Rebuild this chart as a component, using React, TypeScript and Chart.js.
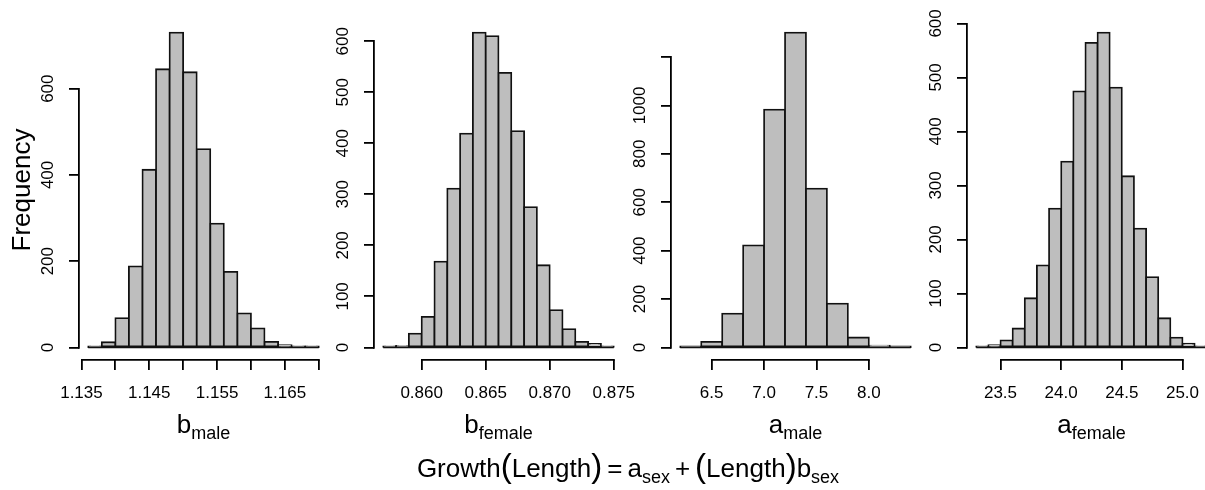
import React, { useEffect, useRef } from 'react';
import { Chart, registerables } from 'chart.js';

Chart.register(...registerables);

const FONT = "'Liberation Sans', Arial, Helvetica, sans-serif";
Chart.defaults.font.family = FONT;

// ---------- Data: b_male ----------
const bMaleBreakStart = 1.136;
const bMaleBinWidth = 0.002;
const bMaleCounts = [1, 12, 68, 188, 412, 645, 730, 638, 460, 287, 175, 79, 44, 13, 5, 1, 1];
const bMaleXTicks = [1.135, 1.14, 1.145, 1.15, 1.155, 1.16, 1.165, 1.17];
const bMaleXTickLabels = ['1.135', '', '1.145', '', '1.155', '', '1.165', ''];
const bMaleYTicks = [0, 200, 400, 600];
const bMaleYTickLabels = ['0', '200', '400', '600'];

// ---------- Data: b_female ----------
const bFemaleBreakStart = 0.857;
const bFemaleBinWidth = 0.001;
const bFemaleCounts = [1, 3, 27, 60, 168, 311, 419, 617, 610, 538, 424, 275, 161, 73, 36, 11, 7, 1];
const bFemaleXTicks = [0.86, 0.865, 0.87, 0.875];
const bFemaleXTickLabels = ['0.860', '0.865', '0.870', '0.875'];
const bFemaleYTicks = [0, 100, 200, 300, 400, 500, 600];
const bFemaleYTickLabels = ['0', '100', '200', '300', '400', '500', '600'];

// ---------- Data: a_male ----------
const aMaleBreakStart = 6.2;
const aMaleBinWidth = 0.2;
const aMaleCounts = [1, 23, 140, 422, 983, 1301, 656, 181, 41, 7, 1];
const aMaleXTicks = [6.5, 7.0, 7.5, 8.0];
const aMaleXTickLabels = ['6.5', '7.0', '7.5', '8.0'];
const aMaleYTicks = [0, 200, 400, 600, 800, 1000, 1200];
const aMaleYTickLabels = ['0', '200', '400', '600', '800', '1000', ''];

// ---------- Data: a_female ----------
const aFemaleBreakStart = 23.3;
const aFemaleBinWidth = 0.1;
const aFemaleCounts = [1, 4, 13, 35, 91, 152, 257, 344, 474, 564, 583, 481, 317, 220, 130, 54, 18, 7, 1];
const aFemaleXTicks = [23.5, 24.0, 24.5, 25.0];
const aFemaleXTickLabels = ['23.5', '24.0', '24.5', '25.0'];
const aFemaleYTicks = [0, 100, 200, 300, 400, 500, 600];
const aFemaleYTickLabels = ['0', '100', '200', '300', '400', '500', '600'];

const titleMains = ['b', 'b', 'a', 'a'];
const titleSubs = ['male', 'female', 'male', 'female'];
const yAxisTitle = 'Frequency';

// ---------- Layout (not data) ----------
const PLOT_LEFTS = [79, 374, 671, 967];
const PLOT_W = 249;
const PLOT_TOP = 20;
const PLOT_BOTTOM = 360;
const Y_AXIS_W = 79;
const CANVAS_W = Y_AXIS_W + PLOT_W + 45;
const CANVAS_H = 490;
const LW = 1.8;
const TICK_FONT_SIZE = 17;
const TICK_LEN = 10;

type Panel = {
  start: number;
  width: number;
  counts: number[];
  xTicks: number[];
  xTickLabels: string[];
  yTicks: number[];
  yTickLabels: string[];
  ylab?: string;
};

const panels: Panel[] = [
  { start: bMaleBreakStart, width: bMaleBinWidth, counts: bMaleCounts, xTicks: bMaleXTicks, xTickLabels: bMaleXTickLabels, yTicks: bMaleYTicks, yTickLabels: bMaleYTickLabels, ylab: yAxisTitle },
  { start: bFemaleBreakStart, width: bFemaleBinWidth, counts: bFemaleCounts, xTicks: bFemaleXTicks, xTickLabels: bFemaleXTickLabels, yTicks: bFemaleYTicks, yTickLabels: bFemaleYTickLabels },
  { start: aMaleBreakStart, width: aMaleBinWidth, counts: aMaleCounts, xTicks: aMaleXTicks, xTickLabels: aMaleXTickLabels, yTicks: aMaleYTicks, yTickLabels: aMaleYTickLabels },
  { start: aFemaleBreakStart, width: aFemaleBinWidth, counts: aFemaleCounts, xTicks: aFemaleXTicks, xTickLabels: aFemaleXTickLabels, yTicks: aFemaleYTicks, yTickLabels: aFemaleYTickLabels },
];

function measure(text: string, font: string): number {
  const c = document.createElement('canvas').getContext('2d');
  if (!c) return text.length * 9.5;
  c.font = font;
  return c.measureText(text).width;
}

const alignPx = (p: number) => Math.round(p - LW / 2) + LW / 2;

const rAxisPlugin = {
  id: 'rAxis',
  afterDraw(chart: any) {
    const { ctx, chartArea } = chart;
    const xs = chart.scales.x;
    const ys = chart.scales.y;
    const xt = xs.ticks;
    const yt = ys.ticks;
    ctx.save();
    ctx.strokeStyle = '#000';
    ctx.lineWidth = LW;
    ctx.lineCap = 'butt';
    ctx.beginPath();
    const yb = alignPx(chartArea.bottom);
    ctx.moveTo(alignPx(xs.getPixelForValue(xt[0].value)) - LW / 2, yb);
    ctx.lineTo(alignPx(xs.getPixelForValue(xt[xt.length - 1].value)) + LW / 2, yb);
    const xl = alignPx(chartArea.left);
    ctx.moveTo(xl, alignPx(ys.getPixelForValue(yt[0].value)) + LW / 2);
    ctx.lineTo(xl, alignPx(ys.getPixelForValue(yt[yt.length - 1].value)) - LW / 2);
    ctx.stroke();
    ctx.restore();
  },
};

function Hist({ panel, left }: { panel: Panel; left: number }) {
  const ref = useRef<HTMLCanvasElement>(null);
  useEffect(() => {
    if (!ref.current) return;
    const { start, width, counts, xTicks, xTickLabels, yTicks, yTickLabels, ylab } = panel;
    const lo = start;
    const hi = start + counts.length * width;
    const ext = (hi - lo) * 0.04;
    const maxCount = Math.max(...counts);
    const tickFont = `${TICK_FONT_SIZE}px ${FONT}`;
    const widest = Math.max(...yTickLabels.map((l) => measure(l, tickFont)));
    const yPad = 31 - TICK_LEN - widest / 2;

    const zeroFit = (s: any) => {
      s.paddingLeft = 0;
      s.paddingRight = 0;
      s.paddingTop = 0;
      s.paddingBottom = 0;
    };

    const chart = new Chart(ref.current, {
      type: 'bar',
      data: {
        datasets: [
          {
            type: 'bar',
            data: counts.map((c, i) => ({ x: lo + (i + 0.5) * width, y: c })),
            backgroundColor: '#BEBEBE',
            borderColor: '#111',
            borderWidth: LW,
            borderSkipped: false,
            inflateAmount: LW / 2,
            barPercentage: 1,
            categoryPercentage: 1,
            order: 2,
          } as any,
          {
            type: 'line',
            data: [
              { x: lo, y: 0 },
              { x: hi, y: 0 },
            ],
            borderColor: '#111',
            borderWidth: LW,
            pointRadius: 0,
            order: 1,
          } as any,
        ],
      },
      options: {
        responsive: false,
        animation: false,
        events: [],
        layout: {
          padding: { top: PLOT_TOP, right: CANVAS_W - Y_AXIS_W - PLOT_W, bottom: 0, left: 0 },
        },
        plugins: {
          legend: { display: false },
          tooltip: { enabled: false },
          title: { display: false },
        },
        scales: {
          x: {
            type: 'linear',
            min: lo - ext,
            max: hi + ext,
            offset: false,
            grid: {
              display: true,
              drawOnChartArea: false,
              drawTicks: true,
              tickLength: TICK_LEN,
              color: '#000',
              lineWidth: LW,
              offset: false,
            },
            border: { display: false },
            ticks: {
              autoSkip: false,
              maxRotation: 0,
              minRotation: 0,
              padding: 13,
              color: '#000',
              font: { family: FONT, size: TICK_FONT_SIZE },
              callback: (_v: any, i: number) => xTickLabels[i] ?? '',
            },
            afterBuildTicks: (s: any) => {
              s.ticks = xTicks.map((v) => ({ value: v }));
            },
            afterFit: (s: any) => {
              s.height = CANVAS_H - PLOT_BOTTOM;
              zeroFit(s);
            },
          } as any,
          y: {
            type: 'linear',
            min: -0.04 * maxCount,
            max: 1.04 * maxCount,
            offset: false,
            grid: {
              display: true,
              drawOnChartArea: false,
              drawTicks: true,
              tickLength: TICK_LEN,
              color: '#000',
              lineWidth: LW,
            },
            border: { display: false },
            ticks: {
              autoSkip: false,
              minRotation: 90,
              maxRotation: 90,
              crossAlign: 'center',
              padding: yPad,
              color: '#000',
              font: { family: FONT, size: TICK_FONT_SIZE },
              callback: (_v: any, i: number) => yTickLabels[i] ?? '',
            },
            title: {
              display: !!ylab,
              text: ylab || '',
              color: '#000',
              font: { family: FONT, size: 26 },
              padding: { top: 7.4, bottom: 0 },
            },
            afterBuildTicks: (s: any) => {
              s.ticks = yTicks.map((v) => ({ value: v }));
            },
            afterFit: (s: any) => {
              s.width = Y_AXIS_W;
              zeroFit(s);
            },
          } as any,
        },
      },
      plugins: [rAxisPlugin],
    });
    return () => chart.destroy();
  }, [panel]);
  return (
    <canvas
      ref={ref}
      width={CANVAS_W}
      height={CANVAS_H}
      style={{ position: 'absolute', left, top: 0, width: CANVAS_W, height: CANVAS_H }}
    />
  );
}

const textBase: React.CSSProperties = {
  position: 'absolute',
  fontFamily: FONT,
  fontSize: 26,
  lineHeight: '30px',
  color: '#000',
  whiteSpace: 'nowrap',
  textAlign: 'center',
};

const subStyle: React.CSSProperties = { fontSize: 18, position: 'relative', top: 6 };
const parenStyle: React.CSSProperties = { fontSize: 33, lineHeight: '20px' };
const opStyle: React.CSSProperties = { margin: '0 5px' };

export default function App() {
  return (
    <div
      style={{
        position: 'absolute',
        left: 0,
        top: 0,
        width: 1205,
        height: 490,
        overflow: 'hidden',
        background: '#fff',
      }}
    >
      {panels.map((p, i) => (
        <Hist key={i} panel={p} left={PLOT_LEFTS[i] - Y_AXIS_W} />
      ))}
      {panels.map((_p, i) => (
        <div key={'t' + i} style={{ ...textBase, left: PLOT_LEFTS[i], width: PLOT_W, top: 409 }}>
          {titleMains[i]}
          <span style={subStyle}>{titleSubs[i]}</span>
        </div>
      ))}
      <div style={{ ...textBase, left: 328, width: 600, top: 453 }}>
        Growth<span style={parenStyle}>(</span>Length<span style={parenStyle}>)</span>
        <span style={opStyle}>=</span>a<span style={subStyle}>sex</span>
        <span style={opStyle}>+</span>
        <span style={parenStyle}>(</span>Length<span style={parenStyle}>)</span>b
        <span style={subStyle}>sex</span>
      </div>
    </div>
  );
}
